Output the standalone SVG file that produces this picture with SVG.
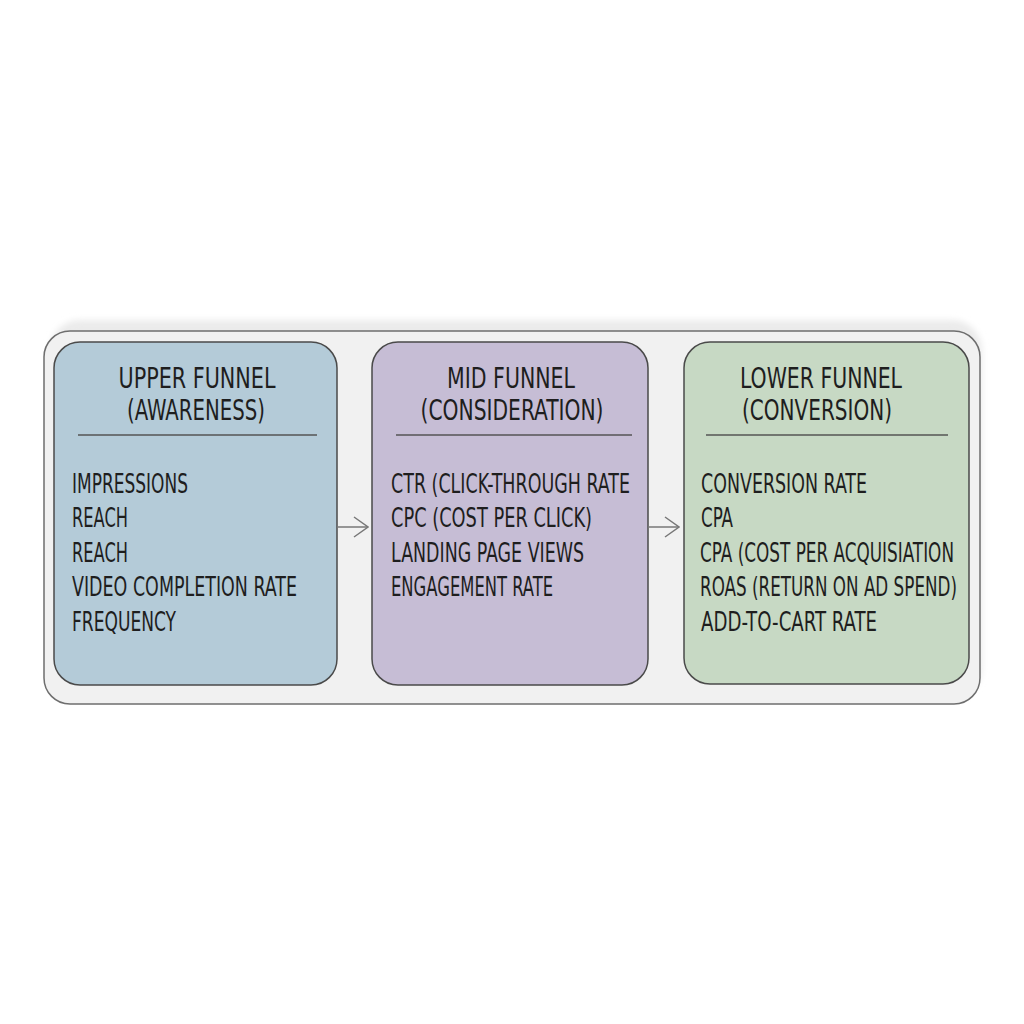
<svg xmlns="http://www.w3.org/2000/svg" width="1024" height="1024" viewBox="0 0 1024 1024">
<defs>
<filter id="soft" x="-5%" y="-10%" width="110%" height="120%"><feGaussianBlur stdDeviation="3"/></filter>
<marker id="chev" viewBox="0 0 16 24" refX="15" refY="12" markerWidth="16" markerHeight="24" markerUnits="userSpaceOnUse" orient="auto">
<path d="M1 2 L15 12 L1 22" fill="none" stroke="#777" stroke-width="1.5"/>
</marker>
</defs>
<style>
.box{stroke:#4a4a4a;stroke-width:1.5}
.t{font-family:"DejaVu Sans Condensed","Liberation Sans Narrow","Roboto Condensed","DejaVu Sans",sans-serif;fill:#1e1e1e}
.title{font-size:29px;text-anchor:middle}
.item{font-size:26px}
.sep{stroke:#555;stroke-width:1.5}
.conn{stroke:#777;stroke-width:1.5;fill:none}
</style>
<rect width="1024" height="1024" fill="#ffffff"/>
<g id="container">
<rect x="50" y="320" width="932" height="378" rx="30" fill="#ebebeb" filter="url(#soft)"/>
<rect x="44" y="331" width="936" height="373" rx="26" fill="#f1f1f1" stroke="#6e6e6e" stroke-width="1.5"/>
</g>
<g id="upper">
<rect class="box" x="54" y="342" width="283" height="343" rx="26" fill="#b4cbd8"/>
<text class="t title" x="197" y="388" textLength="157" lengthAdjust="spacingAndGlyphs">UPPER FUNNEL</text>
<text class="t title" x="196" y="420" textLength="138" lengthAdjust="spacingAndGlyphs">(AWARENESS)</text>
<line class="sep" x1="78" y1="435" x2="317" y2="435"/>
<text class="t item" x="72" y="493" textLength="116" lengthAdjust="spacingAndGlyphs">IMPRESSIONS</text>
<text class="t item" x="72" y="527" textLength="56" lengthAdjust="spacingAndGlyphs">REACH</text>
<text class="t item" x="72" y="562" textLength="56" lengthAdjust="spacingAndGlyphs">REACH</text>
<text class="t item" x="72" y="596" textLength="225" lengthAdjust="spacingAndGlyphs">VIDEO COMPLETION RATE</text>
<text class="t item" x="72" y="631" textLength="104" lengthAdjust="spacingAndGlyphs">FREQUENCY</text>
</g>
<g id="mid">
<rect class="box" x="372" y="342" width="276" height="343" rx="26" fill="#c6bdd5"/>
<text class="t title" x="511" y="388" textLength="128" lengthAdjust="spacingAndGlyphs">MID FUNNEL</text>
<text class="t title" x="512" y="420" textLength="183" lengthAdjust="spacingAndGlyphs">(CONSIDERATION)</text>
<line class="sep" x1="396" y1="435" x2="632" y2="435"/>
<text class="t item" x="391" y="493" textLength="239" lengthAdjust="spacingAndGlyphs">CTR (CLICK-THROUGH RATE</text>
<text class="t item" x="391" y="527" textLength="201" lengthAdjust="spacingAndGlyphs">CPC (COST PER CLICK)</text>
<text class="t item" x="391" y="562" textLength="193" lengthAdjust="spacingAndGlyphs">LANDING PAGE VIEWS</text>
<text class="t item" x="391" y="596" textLength="162" lengthAdjust="spacingAndGlyphs">ENGAGEMENT RATE</text>
</g>
<g id="lower">
<rect class="box" x="684" y="342" width="285" height="342" rx="26" fill="#c7d9c4"/>
<text class="t title" x="821" y="388" textLength="162" lengthAdjust="spacingAndGlyphs">LOWER FUNNEL</text>
<text class="t title" x="817" y="420" textLength="150" lengthAdjust="spacingAndGlyphs">(CONVERSION)</text>
<line class="sep" x1="706" y1="435" x2="948" y2="435"/>
<text class="t item" x="701" y="493" textLength="166" lengthAdjust="spacingAndGlyphs">CONVERSION RATE</text>
<text class="t item" x="701" y="527" textLength="32" lengthAdjust="spacingAndGlyphs">CPA</text>
<text class="t item" x="700" y="562" textLength="254" lengthAdjust="spacingAndGlyphs">CPA (COST PER ACQUISIATION</text>
<text class="t item" x="700" y="596" textLength="257" lengthAdjust="spacingAndGlyphs">ROAS (RETURN ON AD SPEND)</text>
<text class="t item" x="701" y="631" textLength="176" lengthAdjust="spacingAndGlyphs">ADD-TO-CART RATE</text>
</g>
<g id="connectors">
<line class="conn" x1="337" y1="527" x2="368" y2="527" marker-end="url(#chev)"/>
<line class="conn" x1="648" y1="527" x2="679" y2="527" marker-end="url(#chev)"/>
</g>
</svg>
